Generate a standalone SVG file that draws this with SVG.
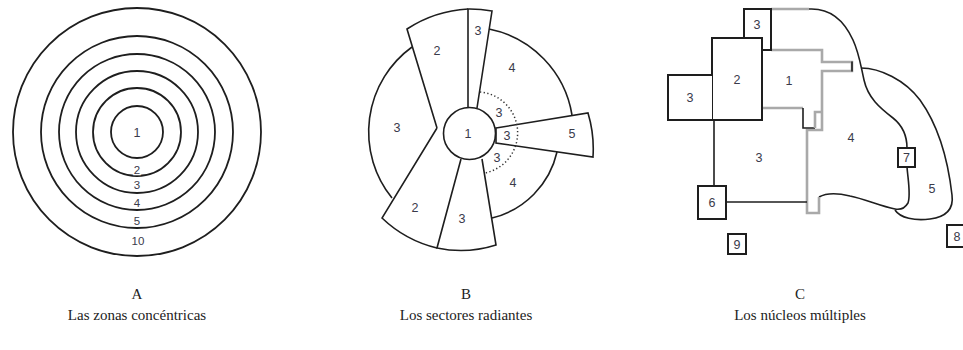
<svg xmlns="http://www.w3.org/2000/svg" width="963" height="350" viewBox="0 0 963 350">
<style>
.ring{fill:none;stroke:#1e1e1e;stroke-width:1.8}
.ln{fill:none;stroke:#1e1e1e;stroke-width:1.6;stroke-linejoin:miter}
.box{fill:#fff;stroke:#1e1e1e;stroke-width:2}
.gr{fill:none;stroke:#a9a9a9;stroke-width:2.6;stroke-linejoin:miter}
.dot{fill:none;stroke:#333;stroke-width:1.5;stroke-dasharray:1.3 2.4}
.n{font-family:"Liberation Sans",sans-serif;font-size:12.5px;fill:#3a3a4a;text-anchor:middle}
.na{font-size:11.5px}
.nh{paint-order:stroke;stroke:#fff;stroke-width:2.5}
.cap{font-family:"Liberation Serif",serif;font-size:15px;fill:#222;text-anchor:middle}
</style>
<rect width="963" height="350" fill="#fff"/>

<!-- Panel A -->
<g id="panelA">
  <g id="ringA10"><circle class="ring" cx="137" cy="132" r="124"/></g>
  <g id="ringA5"><circle class="ring" cx="137" cy="132" r="96"/></g>
  <g id="ringA4"><circle class="ring" cx="137" cy="132" r="78"/></g>
  <g id="ringA3"><circle class="ring" cx="137" cy="132" r="61"/></g>
  <g id="ringA2"><circle class="ring" cx="137" cy="132" r="44"/></g>
  <g id="ringA1"><circle class="ring" cx="137" cy="132" r="26"/></g>
  <text class="n" x="137" y="137">1</text>
  <text class="n na nh" x="137" y="174">2</text>
  <text class="n na nh" x="137" y="189">3</text>
  <text class="n na nh" x="137" y="207">4</text>
  <text class="n na nh" x="137" y="225">5</text>
  <text class="n na nh" x="138" y="245">10</text>
</g>

<!-- Panel B -->
<g id="panelB">
  <g id="sectorB3top">
    <path class="ln" d="M468,107.5 V9 A124,124 0 0 1 492,11 L477,108"/>
    <text class="n" x="478" y="35">3</text>
  </g>
  <g id="sectorB2up">
    <path class="ln" d="M468,9 A124,124 0 0 0 407,29 L437,128"/>
    <text class="n" x="437" y="55">2</text>
  </g>
  <g id="sectorB4up">
    <path class="ln" d="M489,29 A105,105 0 0 1 572,115"/>
    <text class="n" x="512" y="72">4</text>
  </g>
  <g id="sectorB3left">
    <path class="ln" d="M412,47 A105,105 0 0 0 392,198"/>
    <text class="n" x="397" y="132">3</text>
  </g>
  <g id="sectorB2low">
    <path class="ln" d="M437,128 L382,218 A120,120 0 0 0 437,248"/>
    <text class="n" x="415" y="212">2</text>
  </g>
  <g id="sectorB3low">
    <path class="ln" d="M461,159 L437,248 A116,116 0 0 0 496,245 L482,159"/>
    <text class="n" x="462" y="223">3</text>
  </g>
  <g id="sectorB4low">
    <path class="ln" d="M492,218 A88,88 0 0 0 557,152"/>
    <text class="n" x="513" y="187">4</text>
  </g>
  <g id="sectorB5">
    <path class="ln" d="M496,128 L588,113 A125,125 0 0 1 593,157 L496,143 Z"/>
    <text class="n" x="572" y="138">5</text>
    <text class="n" x="507" y="140">3</text>
  </g>
  <g id="zoneB3inner">
    <path class="dot" d="M480,92 A41,41 0 0 1 485,173"/>
    <text class="n" x="499" y="117">3</text>
    <text class="n" x="497" y="162">3</text>
  </g>
  <g id="coreB1">
    <circle class="ln" cx="469.5" cy="133.5" r="26" fill="#fff"/>
    <text class="n" x="468" y="138">1</text>
  </g>
</g>

<!-- Panel C -->
<g id="panelC">
  <g id="zoneC4">
    <path class="gr" d="M771,9 H809"/>
    <path class="ln" d="M809,9 C828,8 843,18 853,40 C859,53 860,62 864,80 C868,98 880,108 893,118 C903,126 907,136 907,148"/>
    <path class="ln" d="M907,167 C908,180 911,195 908,203 C905,208 900,210 895,209 C880,206 865,199 850,196 C838,193 826,193 819,197"/>
    <path class="gr" d="M822,108 V130 H807 V213 H819 V197"/>
    <text class="n" x="851" y="142">4</text>
  </g>
  <g id="zoneC5">
    <path class="ln" d="M861,68 C880,68 905,80 920,100 C938,125 948,160 952,195 C954,210 945,217 930,219 C915,221 900,218 895,210"/>
    <text class="n" x="932" y="193">5</text>
  </g>
  <g id="zoneC1">
    <path class="gr" d="M771,50 H822 V62 H852 V71 H822 V108"/>
    <path class="ln" d="M852,61.5 V71.5" stroke-width="1.4"/>
    <path class="gr" d="M762,108 H803"/>
    <path class="ln" d="M803,108 V128 H815" stroke-width="1.8"/>
    <path class="gr" d="M815,128 V112 H822"/>
    <text class="n" x="789" y="85">1</text>
  </g>
  <g id="zoneC3top">
    <path class="box" fill="none" d="M744,38 V9 H771 V50 H762"/>
    <text class="n" x="757" y="29">3</text>
  </g>
  <g id="zoneC2">
    <rect class="box" x="712" y="38" width="50" height="82" fill="none"/>
    <text class="n" x="737" y="84">2</text>
  </g>
  <g id="zoneC3left">
    <path class="box" fill="none" d="M712,75 H668 V120 H712"/>
    <text class="n" x="690" y="102">3</text>
  </g>
  <g id="zoneC3main">
    <text class="n" x="759" y="162">3</text>
  </g>
  <g id="connectors">
    <path class="ln" stroke-width="2" d="M714,120 V186"/>
    <path class="ln" stroke-width="2" d="M726,202 H807"/>
  </g>
  <g id="zoneC6">
    <rect class="box" x="698" y="186" width="28" height="33"/>
    <text class="n" x="712" y="207">6</text>
  </g>
  <g id="zoneC7">
    <rect class="box" x="898" y="148" width="17" height="19"/>
    <text class="n" x="906.5" y="162">7</text>
  </g>
  <g id="zoneC8">
    <rect class="box" x="947" y="225" width="20" height="22"/>
    <text class="n" x="957" y="241">8</text>
  </g>
  <g id="zoneC9">
    <rect class="box" x="728" y="234" width="18" height="20"/>
    <text class="n" x="737" y="249">9</text>
  </g>
</g>

<!-- Captions -->
<g id="captions">
  <text class="cap" x="137" y="299">A</text>
  <text class="cap" x="137" y="320">Las zonas concéntricas</text>
  <text class="cap" x="466" y="299">B</text>
  <text class="cap" x="466" y="320">Los sectores radiantes</text>
  <text class="cap" x="800" y="299">C</text>
  <text class="cap" x="800" y="320">Los núcleos múltiples</text>
</g>
</svg>
